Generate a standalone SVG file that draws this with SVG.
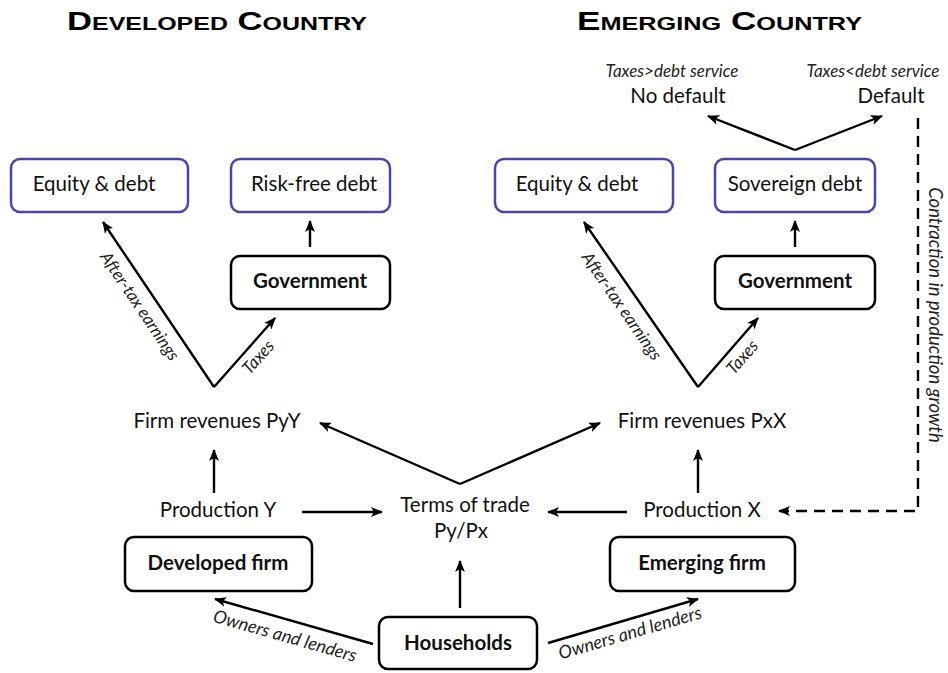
<svg xmlns="http://www.w3.org/2000/svg" width="948" height="673" viewBox="0 0 948 673">
<defs>
<marker id="ah" markerUnits="userSpaceOnUse" markerWidth="13" markerHeight="10" refX="11" refY="5" orient="auto">
<path d="M0,0 L12,5 L0,10 L3,5 z" fill="#000"/>
</marker>
<style>
.title{font-family:"Liberation Sans",Arial,sans-serif;font-weight:bold;font-variant:small-caps;font-size:25px;fill:#000}
.lbl{font-family:Lato,"Noto Sans",sans-serif;font-size:20.5px;fill:#111;text-anchor:middle}
.b{font-weight:bold}
.it{font-family:Lato,"Noto Sans",sans-serif;font-style:italic;font-size:17px;fill:#222;text-anchor:middle}
.blue{fill:#fff;stroke:#4747aa;stroke-width:2.5}
.blk{fill:#fff;stroke:#000;stroke-width:2.5}
.c{fill:none;stroke:#000;stroke-width:2.4;marker-end:url(#ah)}
.d{fill:none;stroke:#000;stroke-width:2.4;stroke-dasharray:11,7;marker-end:url(#ah)}
</style>
</defs>
<rect width="948" height="673" fill="#fff"/>

<text class="title" x="67" y="30" textLength="300" lengthAdjust="spacingAndGlyphs">Developed Country</text>
<text class="title" x="577" y="30" textLength="285" lengthAdjust="spacingAndGlyphs">Emerging Country</text>

<g id="connectors">
<path class="c" d="M795,150 L708,116"/>
<path class="c" d="M795,150 L882,116"/>
<path class="d" d="M918,118 L918,511 L779,511"/>
<path class="c" d="M310,247 L310,221"/>
<path class="c" d="M795,247 L795,221"/>
<path class="c" d="M214,387 L103,222"/>
<path class="c" d="M214,387 L275,318"/>
<path class="c" d="M698,387 L584,222"/>
<path class="c" d="M698,387 L758,318"/>
<path class="c" d="M214,493 L214,450"/>
<path class="c" d="M698,493 L698,450"/>
<path class="c" d="M460,484 L320,423"/>
<path class="c" d="M460,484 L600,423"/>
<path class="c" d="M302,512 L382,512"/>
<path class="c" d="M627,512 L548,512"/>
<path class="c" d="M460,608 L460,561"/>
<path class="c" d="M373,644 L215,599"/>
<path class="c" d="M548,643 L698,599"/>
</g>

<g id="edge-labels">
<text class="it" transform="translate(140,306) rotate(56)" x="0" y="6">After-tax earnings</text>
<text class="it" transform="translate(622,306) rotate(55.4)" x="0" y="6">After-tax earnings</text>
<text class="it" transform="translate(258,357) rotate(-48.5)" x="0" y="6">Taxes</text>
<text class="it" transform="translate(742,357) rotate(-49)" x="0" y="6">Taxes</text>
<text class="it" transform="translate(285,636) rotate(15.9)" x="0" y="6" style="font-size:18px">Owners and lenders</text>
<text class="it" transform="translate(630,633) rotate(-16.3)" x="0" y="6" style="font-size:18px">Owners and lenders</text>
<text class="it" transform="translate(929,315) rotate(90)" x="0" y="0" style="font-size:18.5px">Contraction in production growth</text>
</g>

<g id="no-default">
<text class="it" x="672" y="77">Taxes&gt;debt service</text>
<text class="lbl" x="678" y="103">No default</text>
</g>
<g id="default">
<text class="it" x="873" y="77">Taxes&lt;debt service</text>
<text class="lbl" x="891" y="103">Default</text>
</g>

<g id="equity-debt-dev">
<rect class="blue" x="11" y="159" width="177" height="53" rx="9"/>
<text class="lbl" x="94" y="191">Equity &amp; debt</text>
</g>
<g id="riskfree-debt">
<rect class="blue" x="231" y="159" width="159" height="53" rx="9"/>
<text class="lbl" x="314" y="191">Risk-free debt</text>
</g>
<g id="equity-debt-em">
<rect class="blue" x="495" y="159" width="178" height="53" rx="9"/>
<text class="lbl" x="577" y="191">Equity &amp; debt</text>
</g>
<g id="sovereign-debt">
<rect class="blue" x="715" y="159" width="160" height="53" rx="9"/>
<text class="lbl" x="795" y="191">Sovereign debt</text>
</g>

<g id="gov-dev">
<rect class="blk" x="231" y="256" width="159" height="53" rx="9"/>
<text class="lbl b" x="310" y="288">Government</text>
</g>
<g id="gov-em">
<rect class="blk" x="715" y="256" width="160" height="53" rx="9"/>
<text class="lbl b" x="795" y="288">Government</text>
</g>

<g id="rev-y"><text class="lbl" x="217" y="428">Firm revenues PyY</text></g>
<g id="rev-x"><text class="lbl" x="702" y="428">Firm revenues PxX</text></g>
<g id="prod-y"><text class="lbl" x="218" y="517">Production Y</text></g>
<g id="prod-x"><text class="lbl" x="702" y="517">Production X</text></g>
<g id="terms">
<text class="lbl" x="465" y="512">Terms of trade</text>
<text class="lbl" x="461" y="538">Py/Px</text>
</g>

<g id="dev-firm">
<rect class="blk" x="125" y="537" width="187" height="54" rx="9"/>
<text class="lbl b" x="218" y="570">Developed firm</text>
</g>
<g id="em-firm">
<rect class="blk" x="610" y="537" width="185" height="54" rx="9"/>
<text class="lbl b" x="702" y="570">Emerging firm</text>
</g>
<g id="households">
<rect class="blk" x="379" y="617" width="158" height="52" rx="9"/>
<text class="lbl b" x="458" y="650">Households</text>
</g>
</svg>
